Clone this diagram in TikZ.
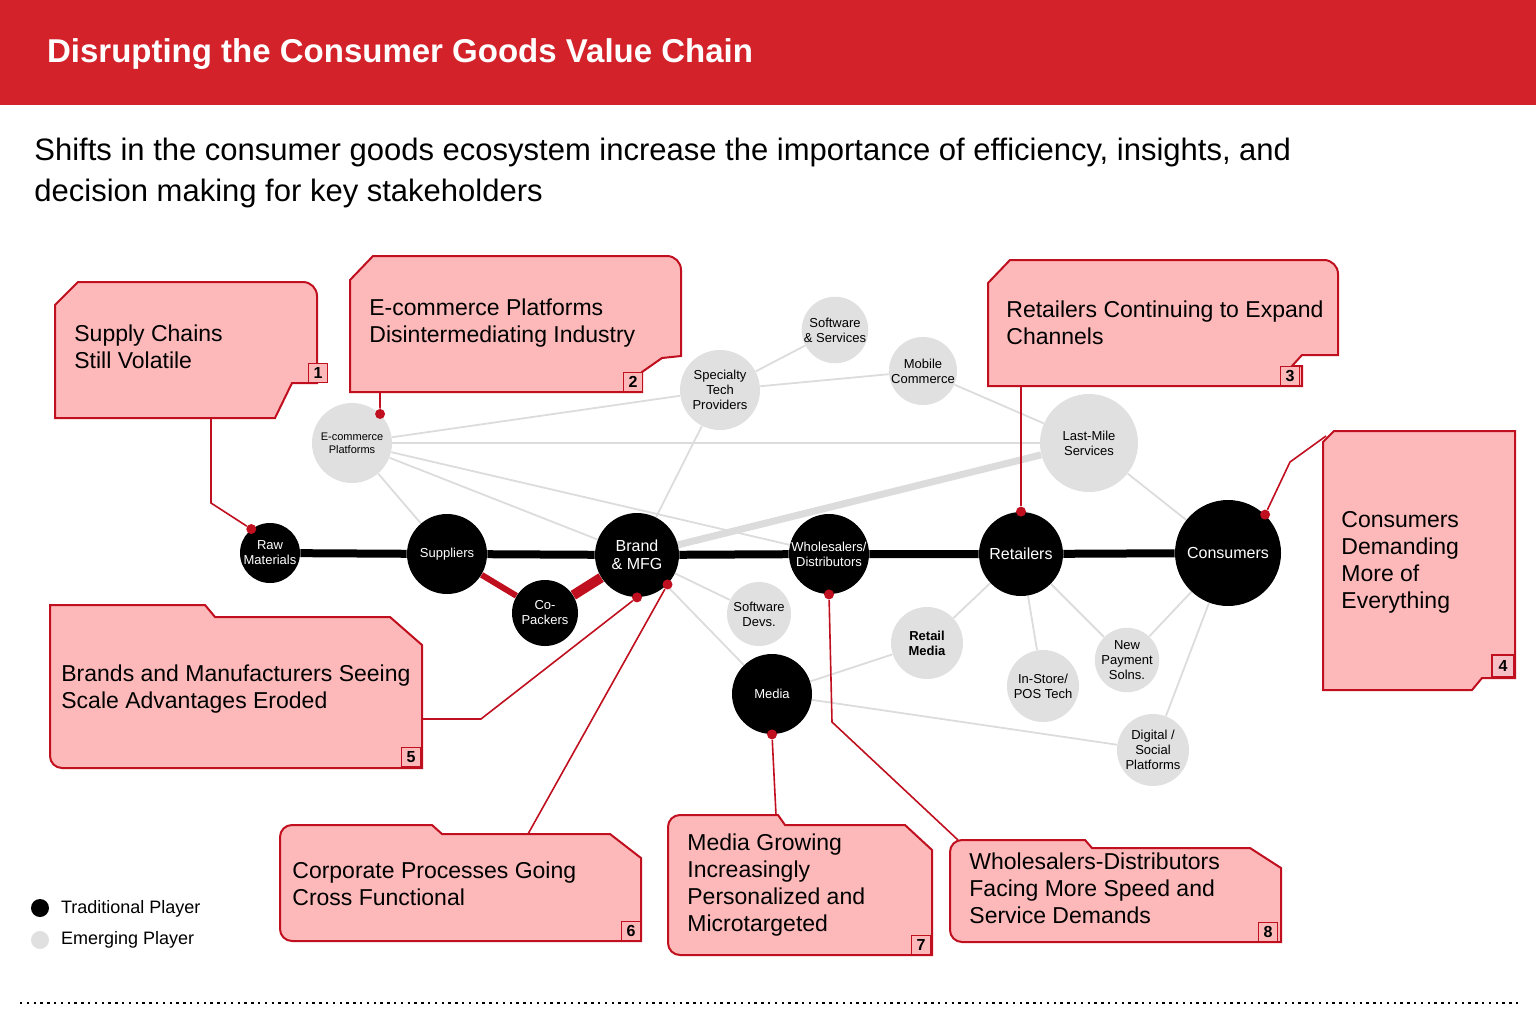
\documentclass[tikz,border=0pt]{standalone}
\usepackage{fontspec}
\setmainfont{Liberation Sans}
\usetikzlibrary{backgrounds}
\definecolor{hdr}{HTML}{D3222A}
\definecolor{cred}{HTML}{C00F1E}
\definecolor{pink}{HTML}{FDB9B9}
\definecolor{egray}{HTML}{E0E0E0}
\definecolor{lgray}{HTML}{DCDCDC}
\begin{document}
\begin{tikzpicture}[x=0.5pt,y=-0.5pt,
  trad/.style={circle,fill=black,text=white,inner sep=0pt,align=center,font=\fontsize{6.5}{7.5}\selectfont},
  emer/.style={circle,fill=egray,text=black,inner sep=0pt,align=center,font=\fontsize{6.5}{7.5}\selectfont},
  edge/.style={draw=lgray,line width=0.9pt},
  chain/.style={line width=4pt,black},
  callout/.style={draw=cred,fill=pink,line width=1pt,line join=miter},
  ctext/.style={anchor=north west,align=left,inner sep=0pt,font=\fontsize{11.5}{13.5}\selectfont},
  num/.style={draw=cred,fill=pink,line width=0.8pt,inner sep=0pt,minimum size=9.5pt,font=\bfseries\fontsize{8}{8}\selectfont},
  conn/.style={draw=cred,line width=0.8pt},
  dot/.style={circle,fill=cred,inner sep=0pt,minimum size=5pt}]
\useasboundingbox (0,0) rectangle (1536,1023);
\fill[hdr] (0,0) rectangle (1536,105);
\node[anchor=west,text=white,font=\bfseries\fontsize{16.5}{18}\selectfont] (title) at (40,54) {Disrupting the Consumer Goods Value Chain};
\node[anchor=north west,align=left,inner sep=0pt,font=\fontsize{15.5}{20.5}\selectfont] (sub) at (34,138) {Shifts in the consumer goods ecosystem increase the importance of efficiency, insights, and\\decision making for key stakeholders};

% nodes
\node[trad,minimum size=30pt] (raw) at (270,553) {Raw\\Materials};
\node[trad,minimum size=40pt] (sup) at (447,554) {Suppliers};
\node[trad,minimum size=42pt,font=\fontsize{8}{9}\selectfont] (brand) at (637,555) {Brand\\\& MFG};
\node[trad,minimum size=33pt] (cop) at (545,613) {Co-\\Packers};
\node[trad,minimum size=40pt] (whl) at (829,554) {Wholesalers/\\Distributors};
\node[trad,minimum size=42pt,font=\fontsize{8}{9}\selectfont] (ret) at (1021,554) {Retailers};
\node[trad,minimum size=53pt,font=\fontsize{8}{9}\selectfont] (con) at (1228,553) {Consumers};
\node[trad,minimum size=40pt] (media) at (772,694) {Media};
\node[emer,minimum size=40pt,font=\fontsize{5.5}{6.5}\selectfont] (ecom) at (352,443) {E-commerce\\Platforms};
\node[emer,minimum size=40pt] (spec) at (720,390) {Specialty\\Tech\\Providers};
\node[emer,minimum size=33pt] (soft) at (835,330) {Software\\\& Services};
\node[emer,minimum size=33pt] (mob) at (923,371) {Mobile\\Commerce};
\node[emer,minimum size=49pt] (last) at (1089,443) {Last-Mile\\Services};
\node[emer,minimum size=32pt] (sdev) at (759,614) {Software\\Devs.};
\node[emer,minimum size=36pt,font=\bfseries\fontsize{6.5}{7.5}\selectfont] (rmed) at (927,643) {Retail\\Media};
\node[emer,minimum size=36pt] (pos) at (1043,686) {In-Store/\\POS Tech};
\node[emer,minimum size=32pt] (pay) at (1127,660) {New\\Payment\\Solns.};
\node[emer,minimum size=36pt] (dig) at (1153,750) {Digital /\\Social\\Platforms};

\begin{scope}[on background layer]
\draw[edge] (ecom) -- (spec);
\draw[edge] (ecom) -- (last);
\draw[edge] (ecom) -- (brand);
\draw[edge] (ecom) -- (whl);
\draw[edge] (ecom) -- (sup);
\draw[edge] (spec) -- (soft);
\draw[edge] (spec) -- (mob);
\draw[edge] (spec) -- (brand);
\draw[edge] (mob) -- (last);
\draw[draw=lgray,line width=3.5pt] (brand) -- (last);
\draw[edge] (last) -- (con);
\draw[edge] (brand) -- (sdev);
\draw[edge] (brand) -- (media);
\draw[edge] (ret) -- (rmed);
\draw[edge] (ret) -- (pos);
\draw[edge] (ret) -- (pay);
\draw[edge] (con) -- (pay);
\draw[edge] (con) -- (dig);
\draw[edge] (media) -- (rmed);
\draw[edge] (media) -- (dig);
\draw[chain] (raw) -- (sup) -- (brand) -- (whl) -- (ret) -- (con);
\draw[cred,line width=3pt] (sup) -- (cop);
\draw[cred,line width=5pt] (cop) -- (brand);
\end{scope}

% callout 1
\draw[callout] (55,305) -- (78,282) -- (303,282) to[out=0,in=90] (317,296) -- (317,383) -- (292,383) -- (275,418) -- (55,418) -- cycle;
\node[ctext] (t1) at (74,324) {Supply Chains\\Still Volatile};
\node[num] (n1) at (318,373) {1};
\coordinate (c1a) at (211,418); \coordinate (c1b) at (211,503);
\node[dot] (d1) at (raw.128) {};
\draw[conn] (c1a) -- (c1b) -- (d1);
% callout 2
\draw[callout] (350,280) -- (373,256) -- (667,256) to[out=0,in=90] (681,270) -- (681,356) -- (662,358) -- (642,372) -- (642,392) -- (350,392) -- cycle;
\node[ctext] (t2) at (369,298) {E-commerce Platforms\\Disintermediating Industry};
\node[num] (n2) at (633,382) {2};
\coordinate (c2) at (380,392);
\node[dot] (d2) at (ecom.46) {};
\draw[conn] (c2) -- (d2);
% callout 3
\draw[callout] (988,283) -- (1010,260) -- (1324,260) to[out=0,in=90] (1338,274) -- (1338,355) -- (1302,355) -- (1292,366) -- (1302,366) -- (1302,386) -- (988,386) -- cycle;
\node[ctext] (t3) at (1006,300) {Retailers Continuing to Expand\\Channels};
\node[num] (n3) at (1290,376) {3};
\coordinate (c3) at (1021,386);
\node[dot] (d3) at (ret.90) {};
\draw[conn] (c3) -- (d3);
% callout 4
\draw[callout] (1323,442) -- (1334,431) -- (1515,431) -- (1515,678) -- (1482,678) -- (1472,690) -- (1323,690) -- cycle;
\node[ctext] (t4) at (1341,511) {Consumers\\Demanding\\More of\\Everything};
\node[num,fill=pink!80!purple!60,minimum size=11pt] (n4) at (1503,666) {4};
\coordinate (c4a) at (1326,436); \coordinate (c4b) at (1290,462);
\node[dot] (d4) at (con.46) {};
\draw[conn] (c4a) -- (c4b) -- (d4);
% callout 5
\draw[callout] (50,605) -- (205,605) -- (215,617) -- (390,617) -- (422,645) -- (422,768) -- (62,768) to[out=180,in=270] (50,756) -- cycle;
\node[ctext] (t5) at (61,664) {Brands and Manufacturers Seeing\\Scale Advantages Eroded};
\node[num] (n5) at (411,757) {5};
\coordinate (c5a) at (422,719); \coordinate (c5b) at (481,719);
\node[dot] (d5) at (brand.270) {};
\draw[conn] (c5a) -- (c5b) -- (d5);
% callout 6
\draw[callout] (292,825) -- (432,825) -- (442,834) -- (610,834) -- (641,858) -- (641,941) -- (292,941) to[out=180,in=270] (280,929) -- (280,837) to[out=90,in=180] cycle;
\node[ctext] (t6) at (292,861) {Corporate Processes Going\\Cross Functional};
\node[num] (n6) at (631,931) {6};
\coordinate (c6) at (528,834);
\node[dot] (d6) at (brand.-44) {};
\draw[conn] (c6) -- (d6);
% callout 7
\draw[callout] (680,815) -- (778,815) -- (785,825) -- (905,825) -- (932,850) -- (932,955) -- (680,955) to[out=180,in=270] (668,943) -- (668,827) to[out=90,in=180] cycle;
\node[ctext] (t7) at (687,833) {Media Growing\\Increasingly\\Personalized and\\Microtargeted};
\node[num] (n7) at (921,945) {7};
\coordinate (c7a) at (776,815);
\node[dot] (d7) at (media.270) {};
\draw[conn] (c7a) -- (d7);
% callout 8
\draw[callout] (962,840) -- (1085,840) -- (1092,848) -- (1250,848) -- (1281,868) -- (1281,942) -- (962,942) to[out=180,in=270] (950,930) -- (950,852) to[out=90,in=180] cycle;
\node[ctext] (t8) at (969,852) {Wholesalers-Distributors\\Facing More Speed and\\Service Demands};
\node[num] (n8) at (1268,932) {8};
\coordinate (c8a) at (958,840); \coordinate (c8b) at (832,722);
\node[dot] (d8) at (whl.270) {};
\draw[conn] (c8a) -- (c8b) -- (d8);

% legend
\node[circle,fill=black,minimum size=9pt,inner sep=0pt] (lt) at (40,908) {};
\node[anchor=west,font=\fontsize{9}{10}\selectfont] (ltt) at (54,909) {Traditional Player};
\node[circle,fill=egray,minimum size=9pt,inner sep=0pt] (le) at (40,940) {};
\node[anchor=west,font=\fontsize{9}{10}\selectfont] (let) at (54,940) {Emerging Player};
\draw[line width=1.2pt,dash pattern=on 1.2pt off 2.2pt] (20,1003) -- (1518,1003);
\end{tikzpicture}
\end{document}
